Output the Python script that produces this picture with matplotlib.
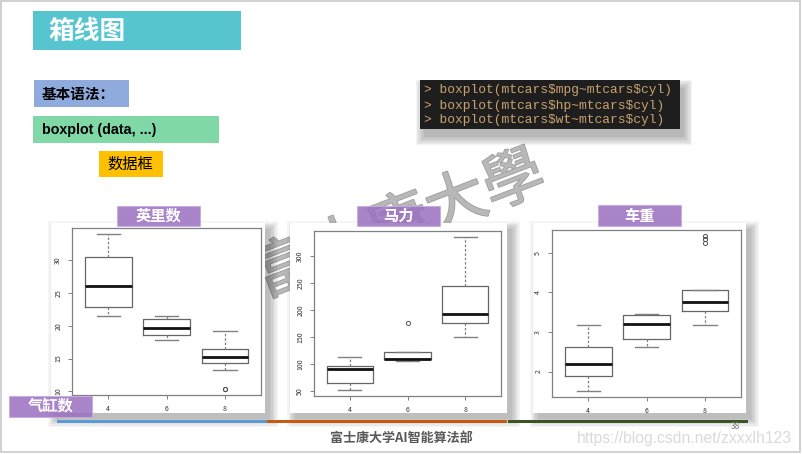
import numpy as np
import matplotlib
matplotlib.use("Agg")
import matplotlib.pyplot as plt
from matplotlib.patches import Rectangle
import matplotlib.patheffects as pe

plt.rcParams["font.family"] = ["Noto Sans CJK SC", "DejaVu Sans"]

# %% data (boxplot stats: mtcars by cyl)
cyl = ["4", "6", "8"]

mpg_med = [26.0, 19.7, 15.2]
mpg_q1 = [22.8, 18.65, 14.3]
mpg_q3 = [30.4, 21.0, 16.4]
mpg_lo = [21.4, 17.8, 13.3]
mpg_hi = [33.9, 21.4, 19.2]
mpg_out = [[], [], [10.4, 10.4]]
mpg_ticks = [10, 15, 20, 25, 30]

hp_med = [91, 110, 192.5]
hp_q1 = [65.5, 110, 175]
hp_q3 = [96, 123, 245]
hp_lo = [52, 105, 150]
hp_hi = [113, 123, 335]
hp_out = [[], [175], []]
hp_ticks = [50, 100, 150, 200, 250, 300]

wt_med = [2.2, 3.215, 3.755]
wt_q1 = [1.885, 2.8225, 3.52]
wt_q3 = [2.6225, 3.44, 4.07]
wt_lo = [1.513, 2.62, 3.17]
wt_hi = [3.19, 3.46, 4.07]
wt_out = [[], [], [5.25, 5.345, 5.424]]
wt_ticks = [2, 3, 4, 5]

panel_titles = ["英里数", "马力", "车重"]
code_lines = ["> boxplot(mtcars$mpg~mtcars$cyl)",
              "> boxplot(mtcars$hp~mtcars$cyl)",
              "> boxplot(mtcars$wt~mtcars$cyl)"]

W, H = 802, 454
fig = plt.figure(figsize=(W / 100, H / 100), dpi=100)
fig.patch.set_facecolor("white")


def frac(x0, y0, x1, y1):
    return [x0 / W, 1 - y1 / H, (x1 - x0) / W, (y1 - y0) / H]


def shadow(ax, x0, y0, x1, y1, dx, dy, n=7, step=1.2, alpha=0.035, z=0.2):
    for i in range(n):
        r = i * step
        ax.add_patch(Rectangle((x0 + dx - r, y0 + dy - r), x1 - x0 + 2 * r,
                               y1 - y0 + 2 * r, fc="black", ec="none",
                               alpha=alpha, zorder=z))


def box(ax, x0, y0, x1, y1, **kw):
    ax.add_patch(Rectangle((x0, y0), x1 - x0, y1 - y0, **kw))


# %% background layer
bg = fig.add_axes([0, 0, 1, 1])
bg.set_xlim(0, W)
bg.set_ylim(H, 0)
bg.axis("off")
bg.set_zorder(0)

box(bg, 1, 1, 800, 452, fc="none", ec="#C8C8C8", lw=1.2, zorder=5)

box(bg, 33, 11, 241, 50, fc="#56C5D0", ec="none")
bg.text(48, 31, "箱线图", color="white", fontsize=18.5, fontweight="bold", va="center")

box(bg, 34, 80, 129, 107, fc="#8FAADC", ec="none")
bg.text(42, 94, "基本语法：", color="black", fontsize=10.5, fontweight="bold", va="center")

box(bg, 33, 116, 219, 143, fc="#7FD8A6", ec="none")
bg.text(42, 130, "boxplot (data, ...)", color="black", fontsize=10.3, fontweight="bold",
        va="center", family="Liberation Sans")

box(bg, 99, 151, 163, 177, fc="#FFC000", ec="none")
bg.text(107, 164, "数据框", color="black", fontsize=11, va="center")

# code snippet
shadow(bg, 420, 80, 680, 129, 4, 8, n=7, step=1.4, alpha=0.045)
box(bg, 420, 80, 680, 129, fc="#1E1E1E", ec="none", zorder=1)
for i, line in enumerate(code_lines):
    bg.text(424, 90.5 + i * 15, line, color="#C9A26E", fontsize=9.25,
            family="Liberation Mono", va="center", parse_math=False, zorder=3)

# watermark (behind the panels)
bg.text(400, 226, "富士康大學", rotation=21, fontsize=44, color="#B8B8B8",
        ha="center", va="center", rotation_mode="anchor", zorder=0.1,
        path_effects=[pe.withStroke(linewidth=1.2, foreground="#9E9E9E")])

panels = [(51, 223, 265, 413), (290, 223, 507, 413), (533, 223, 746, 413)]
inner = [(72, 228, 261, 395), (314, 231, 501, 396), (552, 230, 741, 397)]
for p in panels:
    shadow(bg, *p, 5, 6, n=7, step=1.3, alpha=0.04, z=0.3)
for p in panels:
    box(bg, *p, fc="white", ec="none", zorder=0.5)

box(bg, 57, 419.5, 267, 422.5, fc="#5B9BD5", ec="none", zorder=2)
box(bg, 267, 419.5, 507, 422.5, fc="#C55A11", ec="none", zorder=2)
box(bg, 508, 419.5, 748, 422.5, fc="#375623", ec="none", zorder=2)

bg.text(401.5, 438, "富士康大学AI智能算法部", color="#595959", fontsize=9.4,
        fontweight="bold", ha="center", va="center")
bg.text(577, 438, "https://blog.csdn.net/zxxxlh123", color="#DADADA", fontsize=11.3,
        family="Liberation Sans", va="center")
bg.text(735, 426.5, "38", color="#7F7F7F", fontsize=6, ha="center", va="center")

# %% boxplots
series = [
    (mpg_med, mpg_q1, mpg_q3, mpg_lo, mpg_hi, mpg_out, mpg_ticks),
    (hp_med, hp_q1, hp_q3, hp_lo, hp_hi, hp_out, hp_ticks),
    (wt_med, wt_q1, wt_q3, wt_lo, wt_hi, wt_out, wt_ticks),
]

for (med, q1, q3, lo, hi, out, ticks), rect in zip(series, inner):
    ax = fig.add_axes(frac(*rect))
    ax.set_zorder(1)
    stats = []
    for k in range(len(cyl)):
        stats.append(dict(med=med[k], q1=q1[k], q3=q3[k], whislo=lo[k],
                          whishi=hi[k], fliers=out[k], label=cyl[k]))
    ax.bxp(stats, positions=[1, 2, 3], widths=0.8, showfliers=True,
           boxprops=dict(color="#666666", lw=0.9),
           medianprops=dict(color="#111111", lw=2.0),
           whiskerprops=dict(color="#808080", lw=0.9, linestyle=(0, (2, 1.5))),
           capprops=dict(color="#808080", lw=1.0),
           flierprops=dict(marker="o", mfc="none", mec="#555555", ms=3, mew=0.7))
    allv = lo + hi + [v for o in out for v in o]
    vmin, vmax = min(allv), max(allv)
    pad = (vmax - vmin) * 0.04
    ax.set_ylim(vmin - pad, vmax + pad)
    ax.set_xlim(0.38, 3.62)
    ax.set_yticks(ticks)
    ax.set_yticklabels([str(t) for t in ticks], rotation=90, va="center")
    ax.set_xticks([1, 2, 3])
    ax.set_xticklabels(cyl)
    ax.tick_params(labelsize=5, length=3, width=0.7, colors="#808080",
                   labelcolor="#333333", pad=4)
    for s in ax.spines.values():
        s.set_color("#808080")
        s.set_linewidth(0.9)

# %% labels on top
fg = fig.add_axes([0, 0, 1, 1])
fg.set_xlim(0, W)
fg.set_ylim(H, 0)
fg.axis("off")
fg.set_zorder(2)
fg.patch.set_alpha(0)

label_boxes = [(117, 206, 200, 226), (357, 206, 440, 226), (598, 205, 681, 226)]
for (x0, y0, x1, y1), t in zip(label_boxes, panel_titles):
    box(fg, x0, y0, x1, y1, fc="#9A6FC0", ec="#C3AEDB", lw=0.8, alpha=0.85)
    fg.text((x0 + x1) / 2, (y0 + y1) / 2, t, color="white", fontsize=11,
            fontweight="bold", ha="center", va="center")

box(fg, 9, 396, 92, 416.5, fc="#9A6FC0", ec="#C3AEDB", lw=0.8, alpha=0.85)
fg.text(50.5, 406, "气缸数", color="white", fontsize=11, fontweight="bold",
        ha="center", va="center")

fig.savefig("out.png", dpi=100)
